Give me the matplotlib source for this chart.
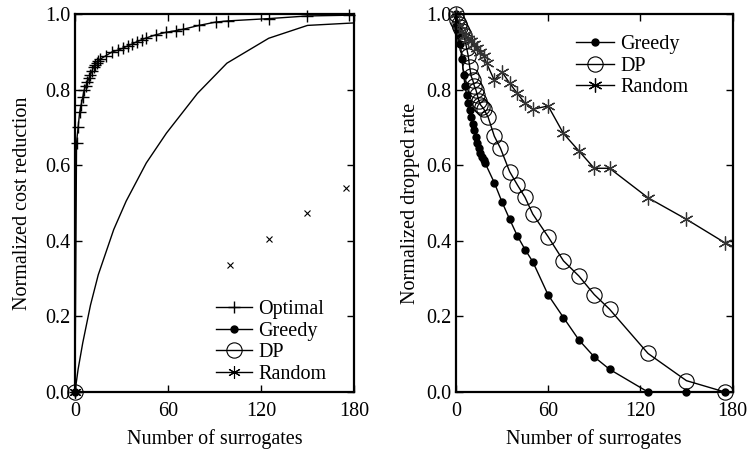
import numpy as np
import matplotlib.pyplot as plt

plt.rcParams['font.family'] = ['Liberation Serif', 'DejaVu Serif']
plt.rcParams['font.size'] = 14.5

# left panel: normalized cost reduction
opt_x = [0, 1, 2, 3, 4, 5, 6, 7, 8, 9, 10, 11, 12, 13, 14, 15, 16, 20,
         24, 28, 31, 34, 37, 40, 43, 46, 52, 59, 65, 70, 80, 91, 99, 125, 150, 177]
opt_y = [0.0, 0.66, 0.70, 0.74, 0.76, 0.78, 0.80, 0.81, 0.82, 0.83, 0.84, 0.85,
         0.86, 0.865, 0.87, 0.875, 0.88, 0.89, 0.90, 0.905, 0.91, 0.916, 0.921,
         0.927, 0.932, 0.937, 0.945, 0.952, 0.956, 0.96, 0.97, 0.979, 0.982,
         0.988, 0.995, 0.997]
curve_x = [0, 2, 5, 10, 15, 20, 25, 33, 46, 59, 79, 98, 125, 150, 182]
curve_y = [0.0, 0.06, 0.13, 0.23, 0.31, 0.37, 0.43, 0.505, 0.606, 0.685, 0.79,
           0.87, 0.936, 0.97, 0.977]
cross_x = [100, 125, 150, 175]
cross_y = [0.335, 0.405, 0.473, 0.54]

# right panel: normalized dropped rate
greedy_x = [0, 1, 2, 3, 4, 5, 6, 7, 8, 9, 10, 11, 12, 13, 14, 15, 16, 17, 18, 19,
            25, 30, 35, 40, 45, 50, 60, 70, 80, 90, 100, 125, 150, 175]
greedy_y = [1.0, 0.97, 0.95, 0.92, 0.88, 0.84, 0.81, 0.785, 0.765, 0.745, 0.728,
            0.71, 0.693, 0.675, 0.66, 0.645, 0.632, 0.622, 0.613, 0.606, 0.554,
            0.503, 0.457, 0.413, 0.377, 0.345, 0.257, 0.197, 0.138, 0.093, 0.06,
            0.0, 0.0, 0.0]
dp_x = [0, 1, 2, 3, 4, 5, 6, 7, 8, 9, 10, 11, 12, 13, 14, 15, 16, 17, 18,
        21, 25, 29, 35, 40, 45, 50, 60, 70, 80, 90, 100, 125, 150, 175]
dp_y = [1.0, 0.985, 0.975, 0.965, 0.955, 0.945, 0.93, 0.91, 0.89, 0.86, 0.835,
        0.825, 0.81, 0.80, 0.785, 0.77, 0.76, 0.755, 0.75, 0.727, 0.677, 0.645,
        0.583, 0.548, 0.515, 0.471, 0.411, 0.347, 0.307, 0.258, 0.219, 0.102,
        0.03, 0.0]
rand_x = [0, 2, 4, 6, 8, 10, 12, 14, 16, 18, 20, 25, 30, 35, 40, 45, 50, 60,
          70, 80, 90, 100, 125, 150, 175, 190]
rand_y = [1.0, 0.97, 0.955, 0.945, 0.935, 0.93, 0.92, 0.91, 0.9, 0.89, 0.87,
          0.825, 0.847, 0.817, 0.79, 0.764, 0.748, 0.757, 0.684, 0.638, 0.592,
          0.592, 0.514, 0.457, 0.395, 0.365]

fig = plt.figure(figsize=(7.56, 4.51), dpi=100)
ax1 = fig.add_axes([0.0992, 0.1308, 0.369, 0.838])
ax2 = fig.add_axes([0.603, 0.1308, 0.366, 0.838])

lw = 1.0
star = (6, 2, 0)
ax1.plot(opt_x, opt_y, color='k', lw=lw, marker='+', ms=9, mew=1.0,
         label='Optimal', clip_on=False)
ax1.plot(curve_x, curve_y, color='k', lw=lw)
ax1.plot(cross_x, cross_y, ls='none', color='k', marker='x', ms=5, mew=0.8)
ax1.plot([0], [0], color='k', lw=lw, marker='o', ms=5, label='Greedy', clip_on=False)
ax1.plot([0], [0], color='k', lw=lw, marker='o', ms=11, mfc='none', mew=0.8,
         label='DP', clip_on=False)
ax1.plot([0], [0], color='k', lw=lw, marker=star, ms=9, mew=0.8,
         label='Random', clip_on=False)
ax1.set_ylabel('Normalized cost reduction', labelpad=10)
ax1.legend(loc='lower right', frameon=False, handlelength=1.8, handletextpad=0.3,
           labelspacing=0.12, borderaxespad=0.0, bbox_to_anchor=(0.93, 0.0))

ax2.plot(greedy_x, greedy_y, color='k', lw=lw, marker='o', ms=5,
         label='Greedy', clip_on=False)
ax2.plot(dp_x, dp_y, color='k', lw=lw, marker='o', ms=11, mfc='none', mew=0.8,
         label='DP', clip_on=False)
ax2.plot(rand_x, rand_y, color='k', lw=lw)
ax2.plot(rand_x[:-1], rand_y[:-1], ls='none', color='#333333', marker=star, ms=10,
         mew=0.9, clip_on=False)
ax2.plot([], [], color='k', lw=lw, marker=star, ms=10, mew=0.9, label='Random')
ax2.set_ylabel('Normalized dropped rate', labelpad=5)
ax2.legend(loc='upper right', frameon=False, handlelength=1.9, handletextpad=0.3,
           labelspacing=0.12, borderaxespad=0.0, bbox_to_anchor=(0.87, 0.965))

for ax in (ax1, ax2):
    ax.set_xlim(0, 180)
    ax.set_ylim(0, 1.0)
    ax.set_xticks([0, 60, 120, 180])
    ax.set_yticks([0, 0.2, 0.4, 0.6, 0.8, 1.0])
    ax.set_yticklabels(['0.0', '0.2', '0.4', '0.6', '0.8', '1.0'])
    ax.set_xlabel('Number of surrogates', labelpad=6)
    ax.tick_params(direction='in', top=True, right=True, length=5, width=1,
                   labelsize=14.5)
    ax.tick_params(axis='x', pad=7)
    ax.tick_params(axis='y', pad=3)
    for s in ax.spines.values():
        s.set_linewidth(1.6)

plt.savefig('out.png', dpi=100)
plt.close()
